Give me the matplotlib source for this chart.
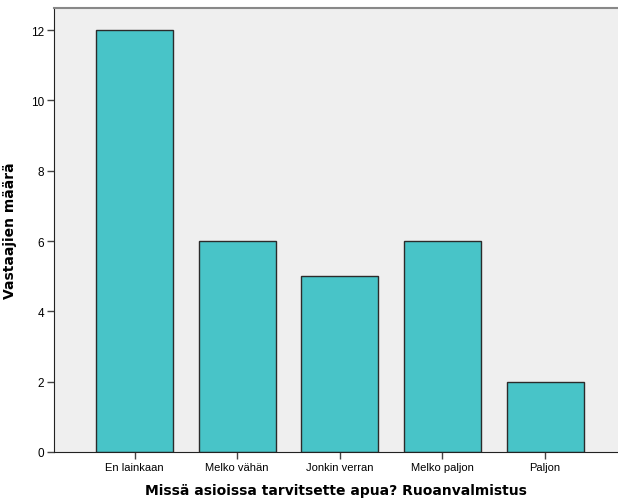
import matplotlib
matplotlib.use("Agg")
import matplotlib.pyplot as plt

categories = ["En lainkaan", "Melko vähän", "Jonkin verran", "Melko paljon", "Paljon"]
counts = [12, 6, 5, 6, 2]
yticks = [0, 2, 4, 6, 8, 10, 12]

fig = plt.figure(figsize=(6.18, 5.02), dpi=100)
ax = fig.add_axes([54 / 618, 49 / 502, 1 - 54 / 618, (453 - 9) / 502])
ax.set_facecolor("#efefef")

x = range(len(categories))
ax.bar(x, counts, width=0.75, color="#48c4c8", edgecolor="#2b2b2b", linewidth=1)

ax.set_xlim(-0.785, 4.71)
ax.set_ylim(0, 12.63)
ax.set_xticks(list(x))
ax.set_xticklabels(categories, fontsize=8, family="Liberation Sans")
ax.set_yticks(yticks)
ax.set_yticklabels([str(v) for v in yticks], fontsize=8.5, family="Liberation Sans")
ax.tick_params(axis="both", length=5, width=1, color="#444444", pad=2)

for s in ["left", "bottom"]:
    ax.spines[s].set_color("#222222")
ax.spines["top"].set_color("#888888")
ax.spines["top"].set_linewidth(1.5)
ax.spines["right"].set_visible(False)

ax.set_ylabel("Vastaajien määrä", fontsize=10, fontweight="bold", labelpad=10)
ax.set_xlabel("Missä asioissa tarvitsette apua? Ruoanvalmistus", fontsize=10, fontweight="bold", labelpad=8)

plt.savefig("out.png", dpi=100)
